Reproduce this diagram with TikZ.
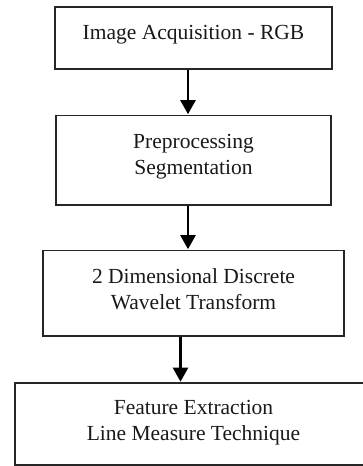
\documentclass[tikz,border=0pt]{standalone}
\usepackage{fontspec}
\setmainfont{Liberation Serif}
\usetikzlibrary{arrows.meta}
\begin{document}
\begin{tikzpicture}[x=1pt,y=-1pt,
  stagebox/.style={draw=black!85, line width=1.6pt, rectangle, inner sep=0pt},
  caption/.style={anchor=north, inner sep=0pt, align=center, text=black!90,
    font=\fontsize{21.5}{26}\selectfont},
  flow/.style={draw=black, line width=2.4pt,
    -{Triangle[width=15pt,length=14pt]}, shorten >=0.5pt}]
\useasboundingbox (0,0) rectangle (363,466);
\begin{scope}
\clip (0,0) rectangle (363,466);
% processing stages
\node[stagebox, minimum width=277pt, minimum height=62pt]   (b1) at (193.5,38)    {};
\node[stagebox, minimum width=275pt, minimum height=89.5pt] (b2) at (193.5,160.25) {};
\node[stagebox, minimum width=301pt, minimum height=85.5pt] (b3) at (193.5,293.25) {};
\node[stagebox, minimum width=357pt, minimum height=82pt]   (b4) at (193.5,424)   {};
\end{scope}
% stage titles (first baseline 16pt below the top of each text block)
\node[caption] (t1) at (193.5,23)  {\rule{0pt}{16pt}Image Acquisition - RGB};
\node[caption] (t2) at (193.5,132) {\rule{0pt}{16pt}Preprocessing\\Segmentation};
\node[caption] (t3) at (193.5,267) {\rule{0pt}{16pt}2 Dimensional Discrete\\Wavelet Transform};
\node[caption] (t4) at (193.5,398) {\rule{0pt}{16pt}Feature Extraction\\Line Measure Technique};
% connectors
\draw[flow] ([xshift=-5.5pt]b1.south) -- ([xshift=-5.5pt]b2.north);
\draw[flow] ([xshift=-5.5pt]b2.south) -- ([xshift=-5.5pt]b3.north);
\draw[flow] ([xshift=-13pt]b3.south) -- ([xshift=-13pt]b4.north);
\end{tikzpicture}
\end{document}
